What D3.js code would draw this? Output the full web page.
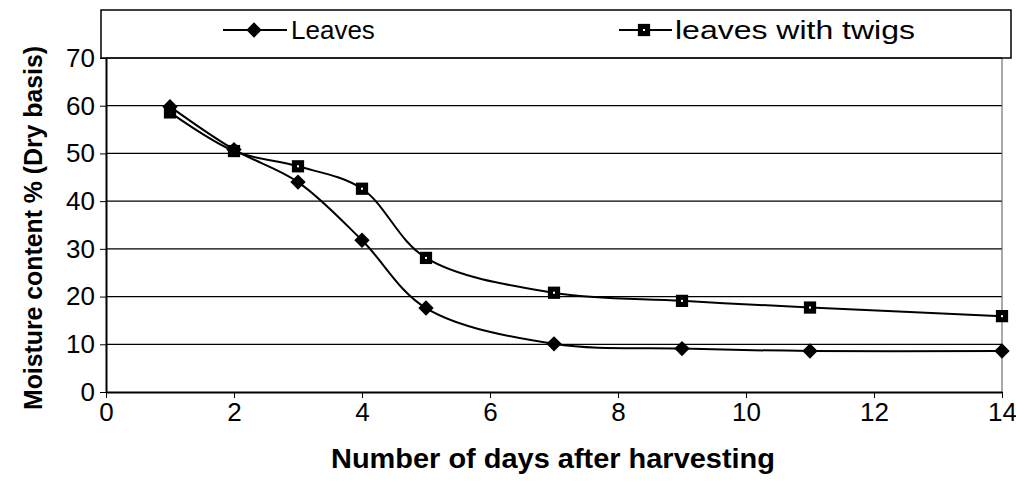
<!DOCTYPE html>
<html>
<head>
<meta charset="utf-8">
<script src="https://cdn.jsdelivr.net/npm/d3@7"></script>
<style>
  body { margin: 0; background: #fff; }
  text { font-family: "Liberation Sans", Arial, sans-serif; fill: #000; }
</style>
</head>
<body>
<div id="chart"></div>
<script>
// data
let days = [1, 2, 3, 4, 5, 7, 9, 11, 14]
let leaves = [59.8, 50.8, 44, 31.8, 17.6, 10.1, 9.1, 8.6, 8.6]
let leavesWithTwigs = [58.6, 50.5, 47.3, 42.6, 28.1, 20.8, 19.1, 17.7, 15.9]
let xTicks = [0, 2, 4, 6, 8, 10, 12, 14]
let yTicks = [0, 10, 20, 30, 40, 50, 60, 70]
let seriesNames = ['Leaves', 'leaves with twigs']

let margin = { top: 58, left: 106, right: 14, bottom: 101 }
let totalWidth = 1016
let totalHeight = 493
let height = totalHeight - margin.top - margin.bottom

let svg = d3.select('#chart')
  .append('svg')
  .attr('width', totalWidth)
  .attr('height', totalHeight)

let g = svg.append('g')
  .attr('transform', `translate(${margin.left},${margin.top})`)

let xPositionScale = d3.scaleLinear().domain([0, 14]).range([0, 896])
let yPositionScale = d3.scaleLinear().domain([0, 70]).range([height, 0])

// gridlines
g.selectAll('.grid')
  .data(yTicks.filter(d => d > 0))
  .enter()
  .append('line')
  .attr('class', 'grid')
  .attr('x1', 0)
  .attr('x2', xPositionScale(14))
  .attr('y1', d => yPositionScale(d))
  .attr('y2', d => yPositionScale(d))
  .attr('stroke', '#000')
  .attr('stroke-width', 1.2)

// right border
g.append('line')
  .attr('x1', xPositionScale(14))
  .attr('x2', xPositionScale(14))
  .attr('y1', 0)
  .attr('y2', height)
  .attr('stroke', '#555')
  .attr('stroke-width', 1)

// legend box (sits on top of the plot)
svg.append('rect')
  .attr('x', 101)
  .attr('y', 10)
  .attr('width', 910)
  .attr('height', 48)
  .attr('fill', 'none')
  .attr('stroke', '#000')
  .attr('stroke-width', 1.5)

// axes
let xAxis = d3.axisBottom(xPositionScale).tickValues(xTicks).tickSizeInner(6).tickSizeOuter(0).tickPadding(5)
let xg = g.append('g')
  .attr('transform', `translate(0,${height})`)
  .call(xAxis)
xg.select('.domain').attr('stroke-width', 2)
xg.selectAll('text').attr('font-size', 26).attr('font-family', '"Liberation Sans", Arial, sans-serif')

let yAxis = d3.axisLeft(yPositionScale).tickValues(yTicks).tickSizeInner(6).tickSizeOuter(0).tickPadding(5)
let yg = g.append('g').call(yAxis)
yg.select('.domain').attr('stroke-width', 2)
yg.selectAll('text').attr('font-size', 26).attr('font-family', '"Liberation Sans", Arial, sans-serif')

// lines
let pointsLeaves = days.map((d, i) => ({ day: d, value: leaves[i] }))
let pointsTwigs = days.map((d, i) => ({ day: d, value: leavesWithTwigs[i] }))

let line = d3.line()
  .x(d => xPositionScale(d.day))
  .y(d => yPositionScale(d.value))
  .curve(d3.curveCatmullRom.alpha(0.5))

g.append('path')
  .datum(pointsTwigs)
  .attr('d', line)
  .attr('fill', 'none')
  .attr('stroke', '#000')
  .attr('stroke-width', 2)

g.append('path')
  .datum(pointsLeaves)
  .attr('d', line)
  .attr('fill', 'none')
  .attr('stroke', '#000')
  .attr('stroke-width', 2)

let diamond = d3.symbol().type(d3.symbolDiamond2).size(150)
let square = d3.symbol().type(d3.symbolSquare).size(150)

g.selectAll('.twig-pt')
  .data(pointsTwigs)
  .enter()
  .append('path')
  .attr('class', 'twig-pt')
  .attr('d', square)
  .attr('transform', d => `translate(${xPositionScale(d.day)},${yPositionScale(d.value)})`)
  .attr('fill', '#000')

g.selectAll('.twig-dot')
  .data(pointsTwigs)
  .enter()
  .append('rect')
  .attr('class', 'twig-dot')
  .attr('x', d => xPositionScale(d.day) - 1)
  .attr('y', d => yPositionScale(d.value) - 1)
  .attr('width', 2)
  .attr('height', 2)
  .attr('fill', '#fff')

g.selectAll('.leaf-pt')
  .data(pointsLeaves)
  .enter()
  .append('path')
  .attr('class', 'leaf-pt')
  .attr('d', diamond)
  .attr('transform', d => `translate(${xPositionScale(d.day)},${yPositionScale(d.value)})`)
  .attr('fill', '#000')

// legend entries
let legend = svg.append('g')
legend.append('line').attr('x1', 223).attr('x2', 287).attr('y1', 30).attr('y2', 30)
  .attr('stroke', '#000').attr('stroke-width', 2)
legend.append('path').attr('d', diamond).attr('transform', 'translate(254,30)')
legend.append('text').attr('x', 291).attr('y', 39).attr('font-size', 26).text(seriesNames[0])

legend.append('line').attr('x1', 619).attr('x2', 672).attr('y1', 30).attr('y2', 30)
  .attr('stroke', '#000').attr('stroke-width', 2)
legend.append('path').attr('d', square).attr('transform', 'translate(644,30)')
legend.append('rect').attr('x', 643).attr('y', 29).attr('width', 2).attr('height', 2).attr('fill', '#fff')
legend.append('text').attr('x', 675).attr('y', 39).attr('font-size', 26)
  .attr('textLength', 240).attr('lengthAdjust', 'spacingAndGlyphs')
  .text(seriesNames[1])

// axis titles
svg.append('text')
  .attr('x', 553)
  .attr('y', 468)
  .attr('text-anchor', 'middle')
  .attr('font-size', 27)
  .attr('font-weight', 'bold')
  .attr('textLength', 444)
  .attr('lengthAdjust', 'spacingAndGlyphs')
  .text('Number of days after harvesting')

svg.append('text')
  .attr('transform', 'translate(42,228) rotate(-90)')
  .attr('text-anchor', 'middle')
  .attr('font-size', 26)
  .attr('font-weight', 'bold')
  .attr('textLength', 364)
  .attr('lengthAdjust', 'spacingAndGlyphs')
  .text('Moisture content % (Dry basis)')
</script>
</body>
</html>
